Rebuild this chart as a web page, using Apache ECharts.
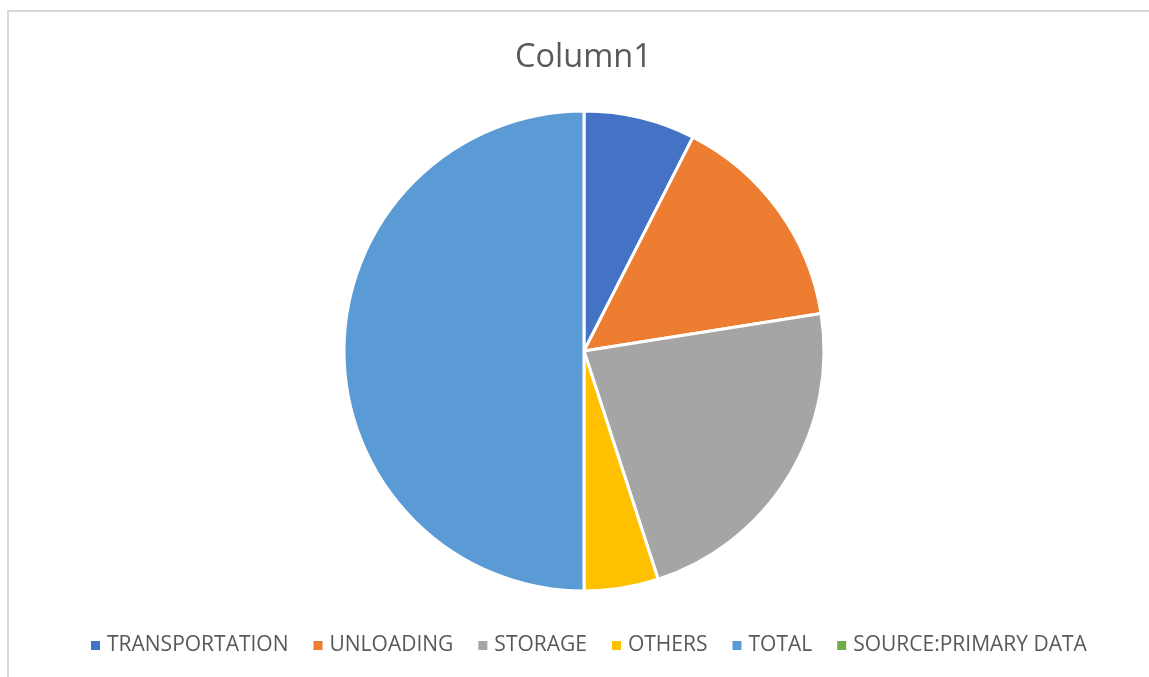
<!DOCTYPE html>
<html>
<head>
<meta charset="utf-8">
<script src="https://cdn.jsdelivr.net/npm/echarts@6/dist/echarts.min.js"></script>
<style>
  html, body { margin: 0; padding: 0; background: #ffffff; }
  #chart { width: 1149px; height: 677px; }
</style>
</head>
<body>
<div id="chart"></div>
<script>
// Cost components (share of total handling cost)
const categories = ['TRANSPORTATION', 'UNLOADING', 'STORAGE', 'OTHERS', 'TOTAL', 'SOURCE:PRIMARY DATA'];
const values = [15, 30, 45, 10, 100, 0];
const colors = ['#4472C4', '#ED7D31', '#A5A5A5', '#FFC000', '#5B9BD5', '#70AD47'];

const chart = echarts.init(document.getElementById('chart'), null, { renderer: 'canvas' });

const pieData = categories.map((name, i) => ({
  name: name,
  value: values[i],
  itemStyle: values[i] === 0 ? { borderWidth: 0 } : {}
}));

chart.setOption({
  animation: false,
  color: colors,
  title: {
    text: 'Column1',
    left: 510,
    top: 36,
    textStyle: {
      fontFamily: 'Open Sans',
      fontSize: 32.5,
      fontWeight: 'normal',
      color: '#595959'
    }
  },
  legend: {
    data: categories,
    bottom: 16,
    left: 86,
    itemWidth: 9,
    itemHeight: 9,
    itemGap: 25,
    icon: 'rect',
    itemStyle: { borderWidth: 0 },
    textStyle: {
      fontFamily: 'Open Sans',
      fontSize: 21,
      color: '#595959',
      padding: [0, 0, 0, 2]
    }
  },
  graphic: [{
    type: 'rect',
    silent: true,
    shape: { x: 8, y: 11, width: 1300, height: 800 },
    style: { fill: 'none', stroke: '#d9d9d9', lineWidth: 2 }
  }],
  series: [{
    type: 'pie',
    center: [584, 351],
    radius: [0, 240],
    startAngle: 90,
    clockwise: true,
    label: { show: false },
    labelLine: { show: false },
    emphasis: { disabled: true },
    itemStyle: { borderColor: '#ffffff', borderWidth: 3 },
    data: pieData
  }]
});
</script>
</body>
</html>
